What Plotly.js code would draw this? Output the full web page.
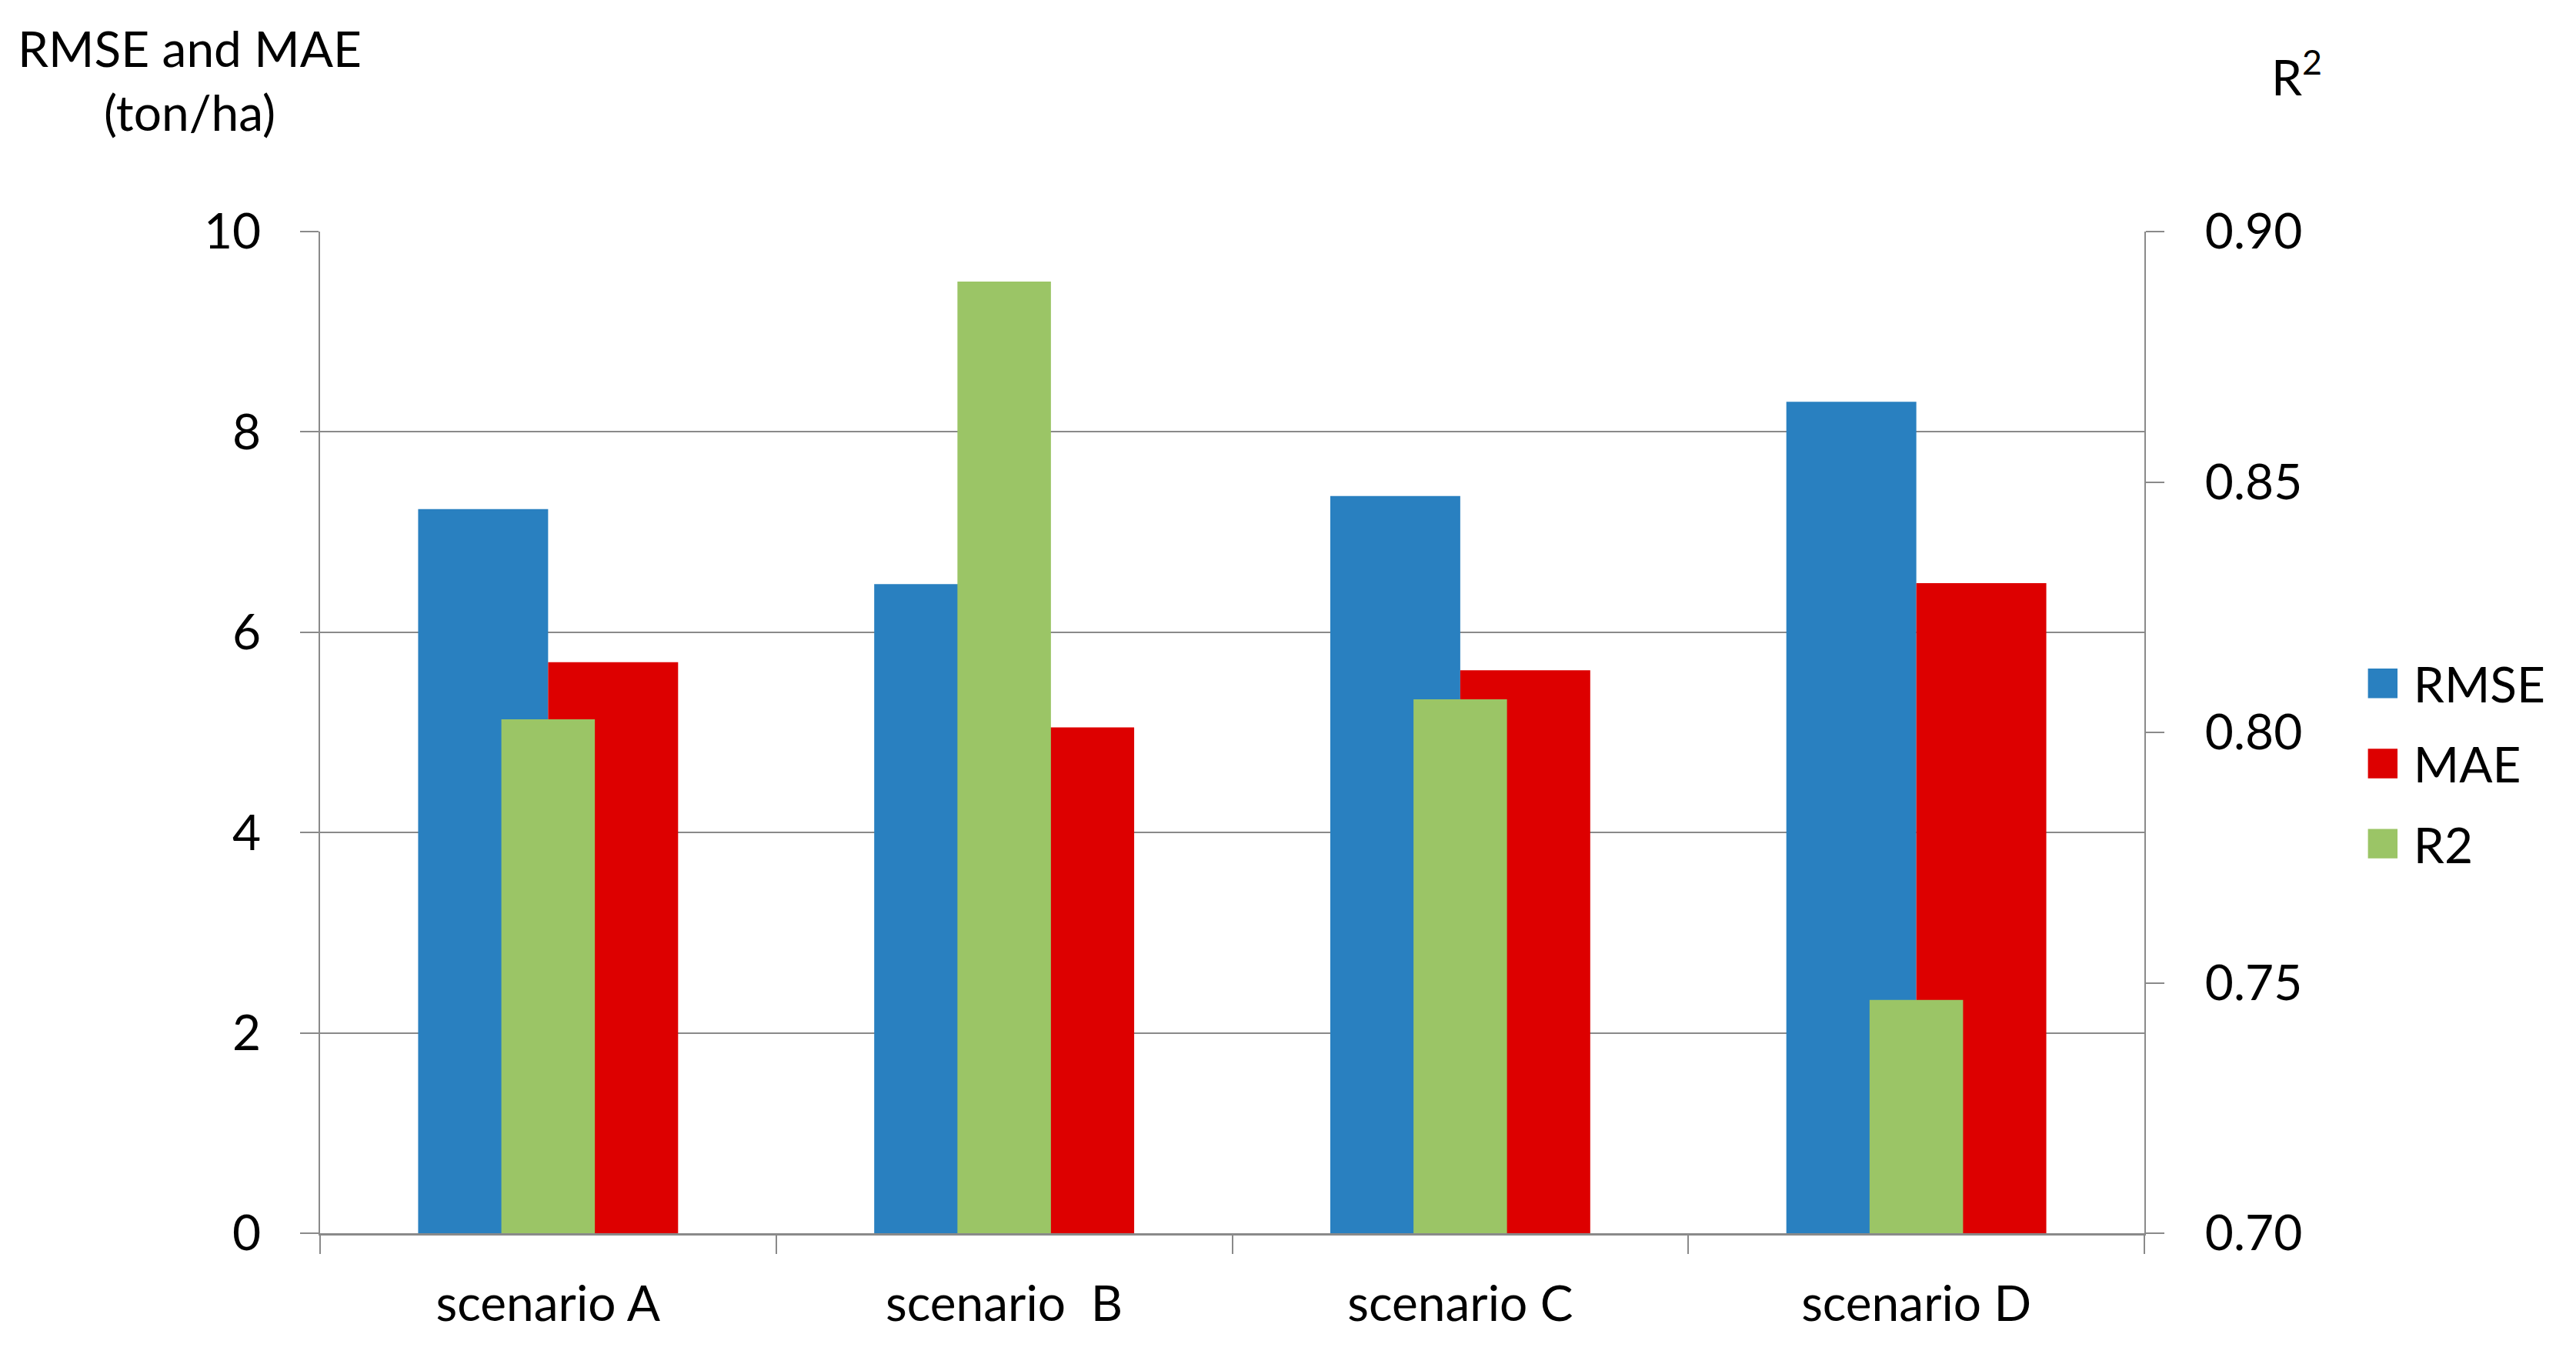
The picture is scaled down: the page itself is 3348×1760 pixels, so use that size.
<!DOCTYPE html>
<html>
<head>
<meta charset="utf-8">
<script src="https://cdn.plot.ly/plotly-3.0.1.min.js"></script>
<style>html,body{margin:0;padding:0;background:#fff;}#chart{width:3348px;height:1760px;}</style>
</head>
<body>
<div id="chart"></div>
<script>
const categories = ["scenario A", "scenario\u00a0\u00a0B", "scenario C", "scenario D"];
const rmse = [7.23, 6.48, 7.36, 8.30];
const mae = [5.70, 5.05, 5.62, 6.49];
const r2 = [0.8026, 0.890, 0.8066, 0.7466];
const leftTicks = [0, 2, 4, 6, 8, 10];
const rightTicks = [0.70, 0.75, 0.80, 0.85, 0.90];

const FONT = "Lato, 'Open Sans', 'Noto Sans', sans-serif";
const FS = 64;

const traces = [
  {type: "bar", name: "RMSE", x: categories, y: rmse, yaxis: "y",
   marker: {color: "#2980C0"}, width: 0.285, offset: -0.285,
   legendgroup: "g1", hoverinfo: "skip"},
  {type: "bar", name: "MAE", x: categories, y: mae, yaxis: "y",
   marker: {color: "#DD0000"}, width: 0.285, offset: 0,
   legendgroup: "g2", hoverinfo: "skip"},
  {type: "bar", name: "R2", x: categories, y: r2, yaxis: "y2",
   marker: {color: "#9BC566"}, width: 0.205, offset: -0.1025,
   legendgroup: "g3", hoverinfo: "skip"}
];

const layout = {
  width: 3348, height: 1760,
  paper_bgcolor: "#fff", plot_bgcolor: "#fff",
  font: {family: FONT, size: FS, color: "#000"},
  margin: {l: 416, r: 561, t: 301, b: 157},
  barmode: "overlay",
  xaxis: {
    type: "category", showgrid: false,
    showline: true, linecolor: "#8a8a8a", linewidth: 3,
    ticks: "outside", tickson: "boundaries", ticklen: 24, tickcolor: "#8a8a8a", tickwidth: 2,
    tickfont: {family: FONT, size: FS, color: "#000"},
    ticklabelstandoff: 34, fixedrange: true
  },
  yaxis: {
    range: [0, 10], tickvals: leftTicks, ticktext: leftTicks.map(String),
    showgrid: true, gridcolor: "#8a8a8a", gridwidth: 2,
    showline: true, linecolor: "#8a8a8a", linewidth: 2,
    ticks: "outside", ticklen: 24, tickcolor: "#8a8a8a", tickwidth: 2,
    tickfont: {family: FONT, size: FS, color: "#000"},
    ticklabelstandoff: 38, zeroline: false, fixedrange: true
  },
  yaxis2: {
    overlaying: "y", side: "right",
    range: [0.7, 0.9], tickvals: rightTicks,
    ticktext: rightTicks.map(v => v.toFixed(2)),
    showgrid: false,
    showline: true, linecolor: "#8a8a8a", linewidth: 2,
    ticks: "outside", ticklen: 24, tickcolor: "#8a8a8a", tickwidth: 2,
    tickfont: {family: FONT, size: FS, color: "#000"},
    ticklabelstandoff: 40, zeroline: false, fixedrange: true
  },
  showlegend: true,
  legend: {
    xref: "container", yref: "container",
    x: 0.919, y: 0.436, xanchor: "left", yanchor: "middle",
    font: {family: FONT, size: FS, color: "#000"},
    itemwidth: 50,
    tracegroupgap: 18, bgcolor: "rgba(0,0,0,0)"
  },
  annotations: [
    {text: "RMSE and MAE<br>(ton/ha)", xref: "paper", yref: "paper",
     x: -0.0713, y: 1.151, xanchor: "center", yanchor: "middle",
     showarrow: false, font: {family: FONT, size: FS, color: "#000"}},
    {text: "R<sup>2</sup>", xref: "paper", yref: "paper",
     x: 1.0835, y: 1.1575, xanchor: "center", yanchor: "middle",
     showarrow: false, font: {family: FONT, size: FS, color: "#000"}}
  ]
};

Plotly.newPlot("chart", traces, layout, {staticPlot: true, displayModeBar: false}).then(function () {
  document.querySelectorAll(".legendpoints path").forEach(function (p) {
    p.setAttribute("transform", "translate(20,0) scale(3.2)");
  });
});
</script>
</body>
</html>
